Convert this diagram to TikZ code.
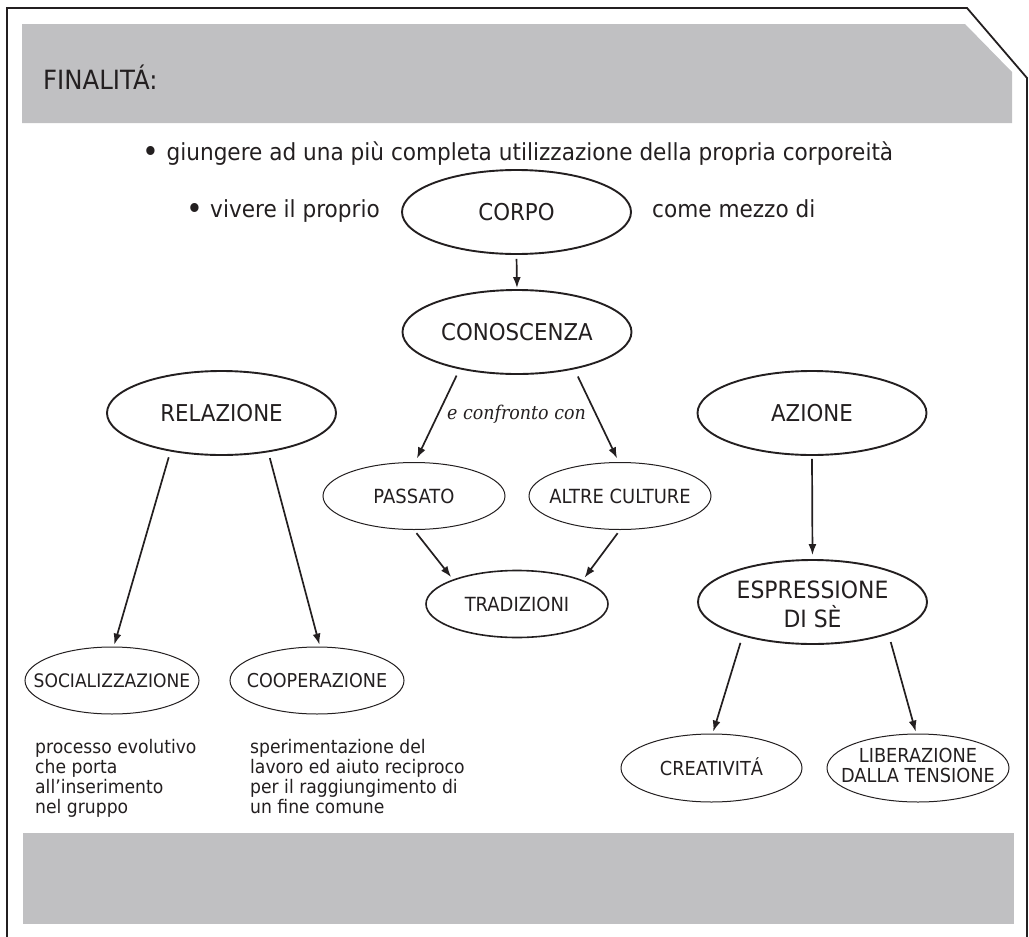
\documentclass[tikz,border=0pt]{standalone}
\usepackage{fontspec}
\setmainfont{DejaVu Sans}[FakeStretch=0.92]
\newfontfamily\seriffam{DejaVu Serif}[FakeStretch=0.92]
\usetikzlibrary{shapes.geometric,arrows.meta}
\definecolor{bandgray}{RGB}{192,192,194}
\definecolor{ink}{RGB}{35,31,32}
\newcommand\ellab[2][0pt]{\raisebox{#1}[0pt][0pt]{\makebox[0pt]{\begin{tabular}{@{}c@{}}#2\end{tabular}}}}
\newcommand\onelab[1]{\makebox[0pt]{#1}}
\newcommand\bigbul{\raisebox{-2pt}{\fontsize{31}{31}\selectfont •}}
\tikzset{
  el/.style={ellipse, draw=ink, inner sep=0pt, text=ink, text depth=0pt},
  bigel/.style={el, line width=1.9pt, minimum width=229pt, minimum height=84pt,
    font=\fontsize{23.2}{25}\selectfont, text height=16.9pt},
  smallel/.style={el, line width=1pt, minimum width=182pt, minimum height=67pt,
    font=\fontsize{19.5}{19}\selectfont, text height=14.2pt},
  arr/.style={draw=ink, line width=1.7pt, -{Latex[length=11pt,width=8pt]}},
  plain/.style={text=ink, inner sep=0pt, font=\fontsize{23.5}{27}\selectfont},
  desc/.style={text=ink, inner sep=0pt, anchor=base west, font=\fontsize{18.7}{19.5}\selectfont},
}
\begin{document}
\begin{tikzpicture}[x=1pt,y=-1pt]
\useasboundingbox (0,0) rectangle (1029,937);
% bands
\fill[bandgray] (22,24) -- (965,24) -- (1012,72) -- (1012,123) -- (22,123) -- cycle;
\fill[bandgray] (23,833) rectangle (1014,924);
% frame
\draw[ink, line width=1.8pt] (7,940) -- (7,8) -- (967,8) -- (1027,78) -- (1027,940);
% header
\node[plain, anchor=base west, font=\fontsize{26.5}{26}\selectfont] (fin) at (43,89) {FINALITÁ:};
% bullets
\node[plain, anchor=base] (b1) at (518,160) {\bigbul\ giungere ad una più completa utilizzazione della propria corporeità};
\node[plain, anchor=base east] (b2) at (380,217) {\bigbul\ vivere il proprio};
\node[plain, anchor=base west] (b3) at (652,217) {come mezzo di};
% ellipses
\node[bigel] (corpo) at (516.5,212) {\onelab{CORPO}};
\node[bigel] (conosc) at (517,332) {\onelab{CONOSCENZA}};
\node[bigel] (relaz) at (221.5,413) {\onelab{RELAZIONE}};
\node[bigel] (azione) at (812,413) {\onelab{AZIONE}};
\node[bigel, font=\fontsize{23.8}{25}\selectfont, text height=0pt] (espr) at (812.5,602) {\ellab[-12.1pt]{ESPRESSIONE\\DI SÈ}};
\node[smallel] (passato) at (414,496) {\onelab{PASSATO}};
\node[smallel] (altre) at (620,496) {\onelab{ALTRE CULTURE}};
\node[smallel, line width=1.6pt] (trad) at (517,604) {\onelab{TRADIZIONI}};
\node[smallel, minimum width=174pt, font=\fontsize{18.6}{19}\selectfont, text height=13.5pt] (social) at (112,680.5) {\onelab{SOCIALIZZAZIONE}};
\node[smallel, minimum width=174pt, font=\fontsize{19.1}{19}\selectfont, text height=13.9pt] (coop) at (317,680.5) {\onelab{COOPERAZIONE}};
\node[smallel, minimum width=181pt, minimum height=68pt, font=\fontsize{19.3}{19}\selectfont, text height=14.1pt] (creat) at (711.5,768) {\onelab{CREATIVIT\smash{Á}}};
\node[smallel, minimum height=68pt, font=\fontsize{19.3}{19}\selectfont, text height=0pt] (liber) at (918,768) {\ellab[-5.6pt]{LIBERAZIONE\\DALLA TENSIONE}};
% connector label
\node[text=ink, inner sep=0pt, anchor=base, font=\seriffam\itshape\fontsize{19}{19}\selectfont] (conf) at (516.5,419) {e confronto con};
% descriptions
\node[desc] (d1) at (35,753) {\begin{tabular}[t]{@{}l@{}}processo evolutivo\\che porta\\all’inserimento\\nel gruppo\end{tabular}};
\node[desc] (d2) at (250,753) {\begin{tabular}[t]{@{}l@{}}sperimentazione del\\lavoro ed aiuto reciproco\\per il raggiungimento di\\un fine comune\end{tabular}};
% arrows
\draw[arr, shorten <=4pt, shorten >=1pt] (corpo.south) -- (conosc.north);
\draw[arr, shorten <=7pt, shorten >=4pt] (conosc.213) -- (passato.88);
\draw[arr, shorten <=8pt, shorten >=4pt] (conosc.-33) -- (altre.92);
\draw[arr, shorten <=4pt, shorten >=3pt] (passato.south) -- (trad.159);
\draw[arr, shorten <=4pt, shorten >=3pt] (altre.south) -- (trad.20);
\draw[arr, shorten <=6pt, shorten >=2pt] (relaz.217) -- (social.87);
\draw[arr, shorten <=6pt, shorten >=2pt] (relaz.-40) -- (coop.85);
\draw[arr, shorten <=3pt, shorten >=4pt] (azione.south) -- (espr.north);
\draw[arr, shorten <=7pt, shorten >=2pt] (espr.206) -- (creat.88);
\draw[arr, shorten <=8pt, shorten >=2pt] (espr.-23) -- (liber.93);
\end{tikzpicture}
\end{document}
